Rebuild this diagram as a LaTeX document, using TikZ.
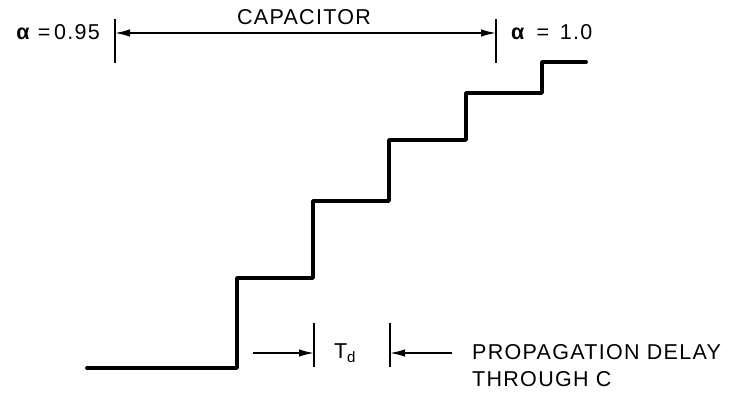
\documentclass[tikz,border=0pt]{standalone}
\usepackage{fontspec}
\setmainfont{Liberation Sans}[LetterSpace=6]
\usetikzlibrary{arrows.meta}
\begin{document}
\begin{tikzpicture}[x=1pt,y=-1pt,
  stair/.style={line width=3.8pt,line cap=round,line join=round},
  bar/.style={line width=2.2pt},
  dimline/.style={line width=1.5pt,-{Latex[length=15pt,width=7.5pt]}},
  lbl/.style={font=\fontsize{21.5}{27}\selectfont,inner sep=0pt}]
\useasboundingbox (0,0) rectangle (730,394);
% staircase
\coordinate (s0) at (87,368);
\coordinate (s1) at (237,368);
\coordinate (s2) at (237,278);
\coordinate (s3) at (313,278);
\coordinate (s4) at (313,201);
\coordinate (s5) at (389,201);
\coordinate (s6) at (389,140);
\coordinate (s7) at (466,140);
\coordinate (s8) at (466,93);
\coordinate (s9) at (542,93);
\coordinate (s10) at (542,62);
\coordinate (s11) at (586,62);
\draw[stair] (s0) -- (s1) -- (s2) -- (s3) -- (s4) -- (s5) -- (s6) -- (s7) -- (s8) -- (s9) -- (s10) -- (s11);
% top dimension
\coordinate (lt) at (115,19);
\coordinate (lb) at (115,63);
\coordinate (rt) at (496,19);
\coordinate (rb) at (496,63);
\draw[bar] (lt) -- (lb);
\draw[bar] (rt) -- (rb);
\coordinate (lm) at (115,33);
\coordinate (rm) at (496,33);
\coordinate (mm) at (305,33);
\draw[dimline] (mm) -- (lm);
\draw[dimline] (mm) -- (rm);
\node[lbl] (cap) at (304,17) {CAPACITOR};
\node[lbl,anchor=east] (a1) at (100,32) {\textbf{α}\hspace{7pt}=\,0.95};
\node[lbl,anchor=west] (a2) at (511,32) {\textbf{α} \,=\, 1.0};
% bottom dimension
\coordinate (b1t) at (314,323);
\coordinate (b1b) at (314,367);
\coordinate (b2t) at (390,323);
\coordinate (b2b) at (390,367);
\draw[bar] (b1t) -- (b1b);
\draw[bar] (b2t) -- (b2b);
\coordinate (al) at (253,353);
\coordinate (ar) at (452,353);
\draw[dimline] (al) -- (b1t |- al);
\draw[dimline] (ar) -- (b2t |- ar);
\node[lbl] (td) at (345,353) {T\textsubscript{d}};
\node[lbl,anchor=west,align=left] (prop) at (472,366) {PROPAGATION DELAY\\THROUGH C};
\end{tikzpicture}
\end{document}
